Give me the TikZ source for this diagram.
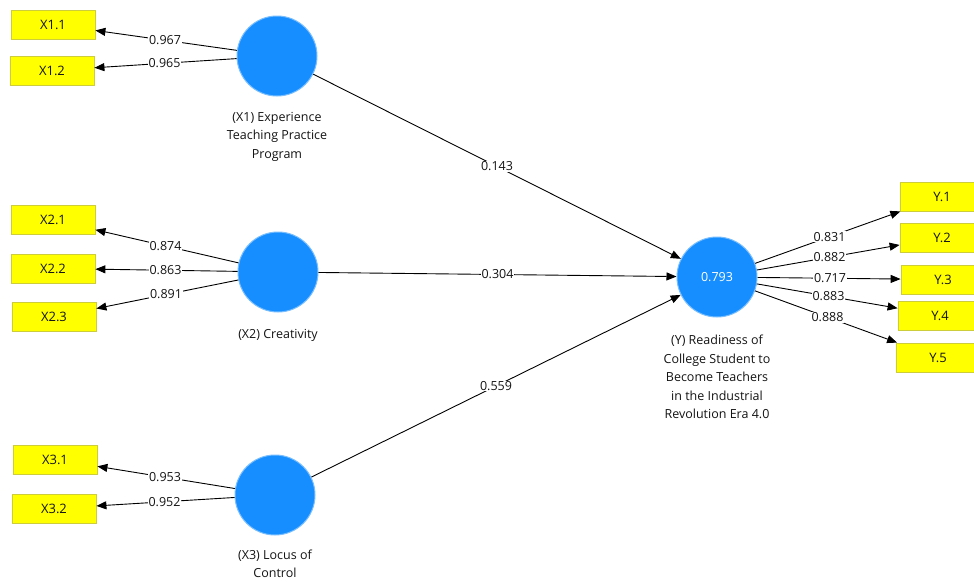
\documentclass[tikz,border=0pt]{standalone}
\usepackage{fontspec}
\setmainfont{Open Sans}
\usetikzlibrary{arrows.meta,calc}
\definecolor{lvblue}{RGB}{22,142,255}
\definecolor{lvedge}{RGB}{120,190,255}
\definecolor{mvyellow}{RGB}{255,255,0}
\definecolor{mvedge}{RGB}{205,205,60}
\definecolor{txt}{RGB}{20,20,20}
\begin{document}
\begin{tikzpicture}[x=1pt,y=-1pt,
 lv/.style={circle,fill=lvblue,draw=lvedge,line width=1pt,minimum size=80pt,inner sep=0pt},
 mv/.style={rectangle,fill=mvyellow,draw=mvedge,line width=0.8pt,minimum width=84pt,minimum height=29pt,inner sep=0pt,text=txt,font=\fontsize{13}{15}\selectfont},
 lbl/.style={align=center,text=txt,font=\fontsize{12.5}{18.5}\selectfont},
 coef/.style={fill=white,inner sep=0.8pt,text=txt,font=\fontsize{12.5}{14}\selectfont},
 link/.style={draw=black,line width=0.9pt,-{Triangle[length=10pt,width=8pt]}}
]
\clip (0,0) rectangle (974,581);
\useasboundingbox (0,0) rectangle (974,581);
\fill[white] (0,0) rectangle (974,581);

% latent variables
\node[lv] (X1) at (277,56) {};
\node[lv] (X2) at (278,272) {};
\node[lv] (X3) at (275,495) {};
\node[lv,text=white,font=\fontsize{12.5}{14}\selectfont] (Y) at (717,277) {0.793};

% construct labels
\node[lbl] (LX1) at (277,136.5) {(X1) Experience\\Teaching Practice\\Program};
\node[lbl] (LX2) at (278,335) {(X2) Creativity};
\node[lbl] (LX3) at (275,564) {(X3) Locus of\\Control};
\node[lbl] (LY) at (717,377) {(Y) Readiness of\\College Student to\\Become Teachers\\in the Industrial\\Revolution Era 4.0};

% indicators
\node[mv] (X11) at (53,24.5) {X1.1};
\node[mv] (X12) at (52,70.5) {X1.2};
\node[mv] (X21) at (53,220) {X2.1};
\node[mv] (X22) at (53,268.5) {X2.2};
\node[mv] (X23) at (54,317) {X2.3};
\node[mv] (X31) at (55,459.5) {X3.1};
\node[mv] (X32) at (54,508.5) {X3.2};
\node[mv] (Y1) at (942,196.5) {Y.1};
\node[mv] (Y2) at (942,237.5) {Y.2};
\node[mv] (Y3) at (943,279.5) {Y.3};
\node[mv] (Y4) at (940,315.5) {Y.4};
\node[mv] (Y5) at (938,357.5) {Y.5};

% outer loadings
\draw[link] (X1) -- (X11) node[coef] at ($(X1)!0.5!(X11)$) {0.967};
\draw[link] (X1) -- (X12) node[coef] at ($(X1)!0.5!(X12)$) {0.965};
\draw[link] (X2) -- (X21) node[coef] at ($(X2)!0.5!(X21)$) {0.874};
\draw[link] (X2) -- (X22) node[coef] at ($(X2)!0.5!(X22)$) {0.863};
\draw[link] (X2) -- (X23) node[coef] at ($(X2)!0.5!(X23)$) {0.891};
\draw[link] (X3) -- (X31) node[coef] at ($(X3)!0.5!(X31)$) {0.953};
\draw[link] (X3) -- (X32) node[coef] at ($(X3)!0.5!(X32)$) {0.952};
\draw[link] (Y) -- (Y1) node[coef] at ($(Y)!0.5!(Y1)$) {0.831};
\draw[link] (Y) -- (Y2) node[coef] at ($(Y)!0.5!(Y2)$) {0.882};
\draw[link] (Y) -- (Y3) node[coef] at ($(Y)!0.5!(Y3)$) {0.717};
\draw[link] (Y) -- (Y4) node[coef] at ($(Y)!0.5!(Y4)$) {0.883};
\draw[link] (Y) -- (Y5) node[coef] at ($(Y)!0.5!(Y5)$) {0.888};

% path coefficients
\draw[link] (X1) -- (Y) node[coef] at ($(X1)!0.5!(Y)$) {0.143};
\draw[link] (X2) -- (Y) node[coef] at ($(X2)!0.5!(Y)$) {0.304};
\draw[link] (X3) -- (Y) node[coef] at ($(X3)!0.5!(Y)$) {0.559};
\end{tikzpicture}
\end{document}
